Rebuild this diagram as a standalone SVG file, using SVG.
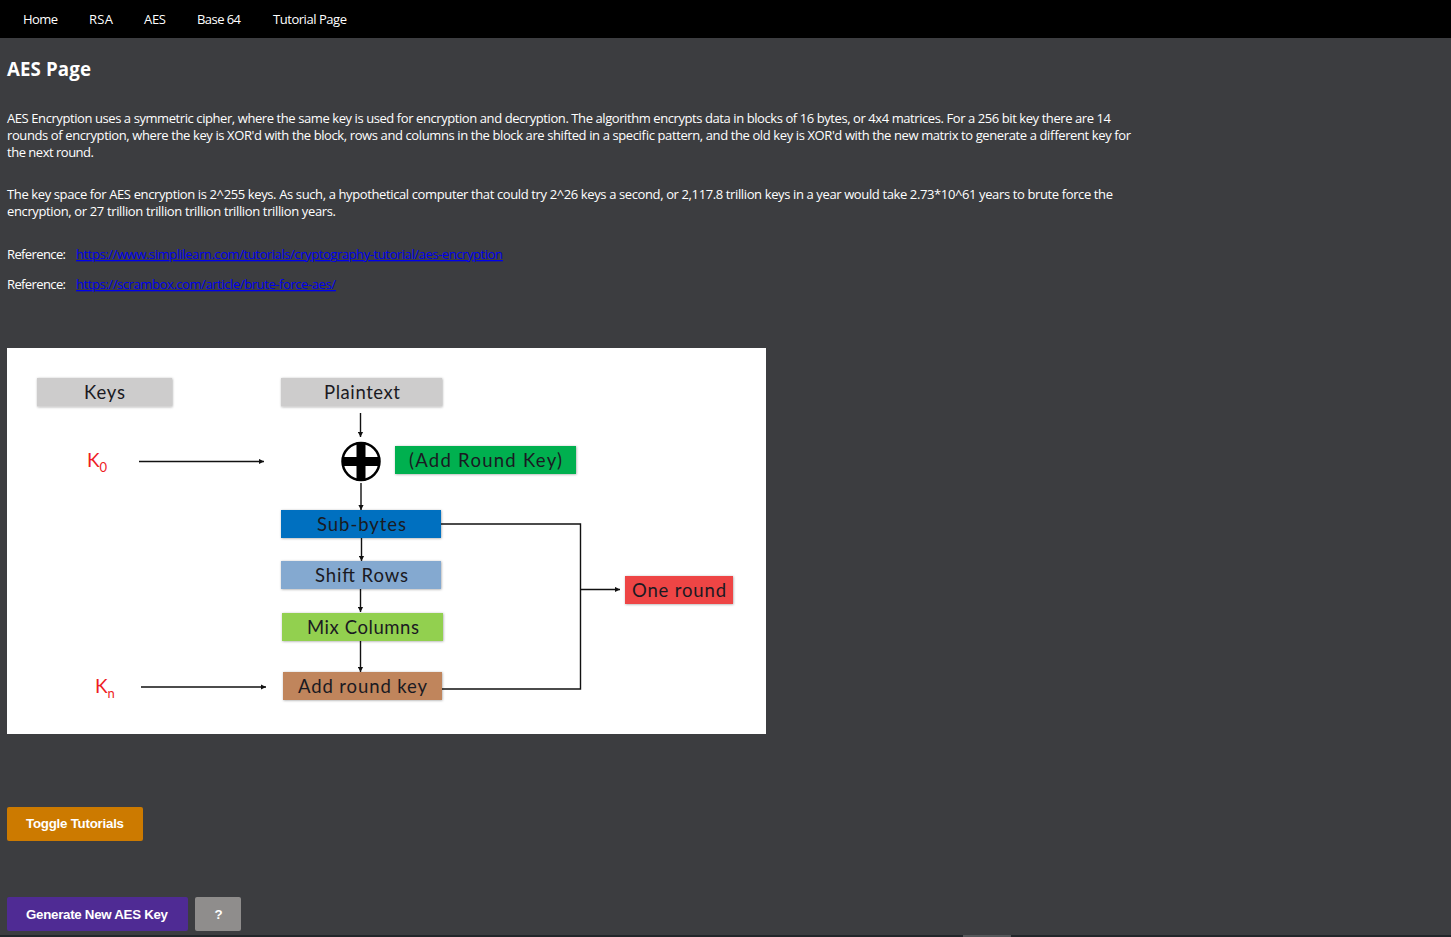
<svg xmlns="http://www.w3.org/2000/svg" width="1451" height="937" viewBox="0 0 1451 937">
<style>
text{font-family:"Open Sans","Noto Sans","Liberation Sans",sans-serif}
.nav{font-size:13px;fill:#fff}
.body{font-size:13px;fill:#fff}
.link{font-size:13px;fill:#0000ee;text-decoration:underline}
.h{font-size:18.7px;font-weight:700;fill:#fff}
.btn{font-family:"Liberation Sans",Arial,sans-serif;font-size:13.300px;font-weight:700;fill:#fff;text-anchor:middle}
.lab{font-family:"Lato","Open Sans",sans-serif;font-size:18.500px;fill:#1a1a22;text-anchor:middle}
.key{font-family:"Lato","Open Sans",sans-serif;font-size:19px;fill:#ee1c25}
.sub{font-family:"Lato","Open Sans",sans-serif;font-size:13px;fill:#ee1c25}
.c{fill:none;stroke:#111;stroke-width:1.4}
.a{marker-end:url(#ah)}
.s{filter:url(#blur)}
</style>
<defs>
<marker id="ah" markerUnits="userSpaceOnUse" markerWidth="6" markerHeight="6" refX="5" refY="3" orient="auto"><path d="M0 0.4L5 3L0 5.6z" fill="#111"/></marker>
<filter id="blur" x="-10%" y="-20%" width="120%" height="140%"><feDropShadow dx="0.5" dy="0.5" stdDeviation="1" flood-color="#000" flood-opacity="0.35"/></filter>
</defs>
<rect width="1451" height="937" fill="#3c3d40"/>
<rect width="1451" height="38" fill="#000"/>
<g id="nav">
<text class="nav" x="23" y="24" textLength="35">Home</text>
<text class="nav" x="89" y="24" textLength="24">RSA</text>
<text class="nav" x="144" y="24" textLength="22">AES</text>
<text class="nav" x="197" y="24" textLength="44">Base 64</text>
<text class="nav" x="273" y="24" textLength="74">Tutorial Page</text>
</g>
<g id="content">
<text class="h" x="7" y="75.500" textLength="84">AES Page</text>
<text class="body" x="7" y="123" textLength="1104">AES Encryption uses a symmetric cipher, where the same key is used for encryption and decryption. The algorithm encrypts data in blocks of 16 bytes, or 4x4 matrices. For a 256 bit key there are 14</text>
<text class="body" x="7" y="140" textLength="1124">rounds of encryption, where the key is XOR'd with the block, rows and columns in the block are shifted in a specific pattern, and the old key is XOR'd with the new matrix to generate a different key for</text>
<text class="body" x="7" y="157" textLength="87">the next round.</text>
<text class="body" x="7" y="199" textLength="1106">The key space for AES encryption is 2^255 keys. As such, a hypothetical computer that could try 2^26 keys a second, or 2,117.8 trillion keys in a year would take 2.73*10^61 years to brute force the</text>
<text class="body" x="7" y="216" textLength="329">encryption, or 27 trillion trillion trillion trillion trillion years.</text>
<text class="body" x="7" y="259" textLength="59">Reference:</text>
<text class="link" x="76" y="259" textLength="427">https://www.simplilearn.com/tutorials/cryptography-tutorial/aes-encryption</text>
<text class="body" x="7" y="289" textLength="59">Reference:</text>
<text class="link" x="76" y="289" textLength="260">https://scrambox.com/article/brute-force-aes/</text>
</g>
<rect x="7" y="348" width="759" height="386" fill="#fff"/>
<g id="connectors">
<path class="c a" d="M360.500 413V437"/>
<path class="c a" d="M139 461.500H264"/>
<path class="c a" d="M361 483V510"/>
<path class="c a" d="M361.500 538V561"/>
<path class="c a" d="M360.500 589V612"/>
<path class="c a" d="M360.500 641V672"/>
<path class="c a" d="M141 687H266"/>
<path class="c" d="M441 524H580.500V689H441"/>
<path class="c a" d="M580.500 589.500H620"/>
</g>
<g id="keys"><rect class="s" x="37" y="378" width="135" height="28.500" fill="#cdcccc"/><text class="lab" x="104.500" y="398.500" textLength="41">Keys</text></g>
<g id="plaintext"><rect class="s" x="281" y="378" width="161" height="28.500" fill="#cdcccc"/><text class="lab" x="362" y="398.500" textLength="76">Plaintext</text></g>
<g id="k0"><text class="key" x="87" y="466.500">K</text><text class="sub" x="99.500" y="472">0</text></g>
<g id="xor"><circle cx="361" cy="461.500" r="18.500" fill="#fff" stroke="#000" stroke-width="2.500"/><path d="M356.500 442.500H365.500V457H380V466H365.500V480.500H356.500V466H342V457H356.500z" fill="#000"/></g>
<g id="add-round-key-label"><rect class="s" x="395" y="446" width="181" height="28" fill="#00b050"/><text class="lab" x="485.500" y="466.500" textLength="153">(Add Round Key)</text></g>
<g id="sub-bytes"><rect class="s" x="281" y="510" width="160" height="28" fill="#0070c0"/><text class="lab" x="361.500" y="530.500" textLength="89">Sub-bytes</text></g>
<g id="shift-rows"><rect class="s" x="281" y="561" width="160" height="28" fill="#84a9d0"/><text class="lab" x="361.500" y="581.500" textLength="93">Shift Rows</text></g>
<g id="mix-columns"><rect class="s" x="282" y="613" width="161" height="28" fill="#92d050"/><text class="lab" x="363" y="633.500" textLength="112">Mix Columns</text></g>
<g id="add-round-key"><rect class="s" x="283" y="672" width="159" height="28" fill="#c0855c"/><text class="lab" x="362.500" y="692.500" textLength="129">Add round key</text></g>
<g id="kn"><text class="key" x="95" y="692.500">K</text><text class="sub" x="107.500" y="698">n</text></g>
<g id="one-round"><rect class="s" x="625" y="576" width="108" height="28" fill="#ee4444"/><text class="lab" x="679" y="596.500" textLength="94">One round</text></g>
<g id="toggle"><rect x="7" y="807" width="136" height="34" rx="2" fill="#cc7a00"/><text class="btn" x="75" y="828" textLength="98">Toggle Tutorials</text></g>
<g id="generate"><rect x="7" y="897" width="181" height="34" rx="2" fill="#4f2b94"/><text class="btn" x="97" y="919" textLength="142">Generate New AES Key</text></g>
<g id="help"><rect x="195" y="897" width="46" height="34" rx="2" fill="#8f8d8c"/><text class="btn" x="218.500" y="919">?</text></g>
<rect y="935" width="1451" height="2" fill="#22262a"/>
<rect x="963" y="935" width="48" height="2" fill="#55575a"/>
</svg>
